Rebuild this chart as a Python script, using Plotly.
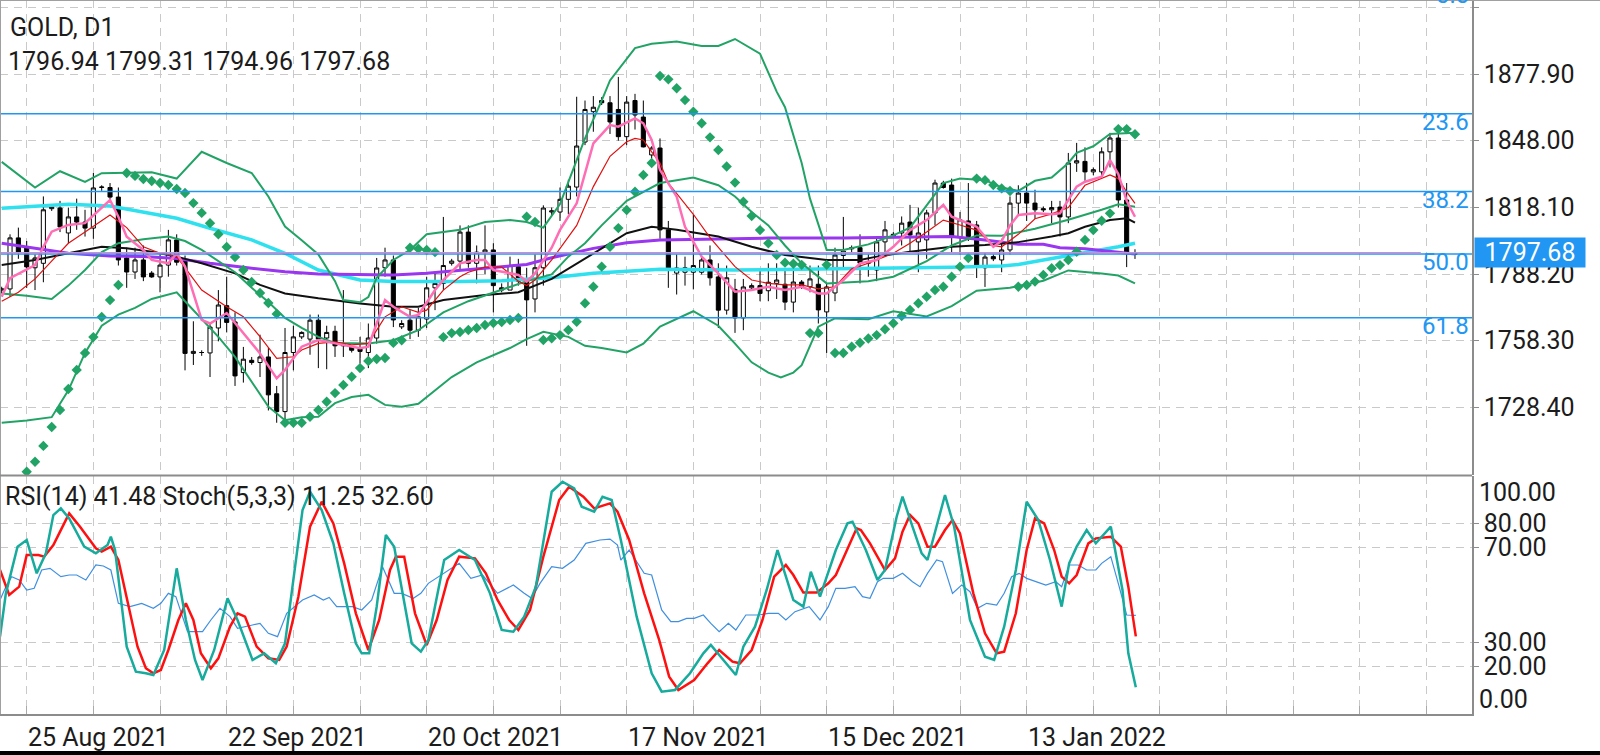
import plotly.graph_objects as go

# ---------------- price bars (bar 0 = Sun 22 Aug 2021 ... bar 136 = Fri 28 Jan 2022) -------------
opens = [1781.0, 1781.5, 1804.4, 1800.0, 1791.0, 1793.0, 1817.5, 1817.8, 1806.6, 1813.8,
         1811.5, 1808.8, 1827.0, 1827.0, 1822.7, 1795.4, 1789.1, 1794.5, 1788.6, 1786.9,
         1792.2, 1803.5, 1794.0, 1752.6, 1753.0, 1752.8, 1764.0, 1774.0, 1766.7, 1744.0,
         1749.5, 1748.5, 1751.0, 1734.5, 1726.5, 1753.0, 1760.0, 1759.0, 1767.5, 1759.5,
         1762.5, 1756.0, 1755.5, 1755.0, 1753.0, 1759.5, 1791.0, 1794.5, 1764.5, 1767.5,
         1763.0, 1768.0, 1782.0, 1784.0, 1793.0, 1794.0, 1807.0, 1793.0, 1798.0, 1799.0,
         1782.0, 1781.0, 1791.5, 1785.0, 1777.0, 1791.0, 1816.0, 1816.0, 1821.7, 1827.2,
         1847.4, 1861.0, 1866.0, 1865.0, 1862.0, 1849.8, 1866.0, 1858.6, 1841.6, 1844.7,
         1808.0, 1788.6, 1789.0, 1789.0, 1789.0, 1794.5, 1786.9, 1772.0, 1781.3, 1768.5,
         1782.0, 1783.0, 1780.7, 1784.0, 1783.6, 1775.6, 1784.6, 1782.5, 1783.6, 1771.2,
         1779.7, 1796.5, 1799.5, 1800.0, 1793.0, 1790.0, 1802.6, 1806.0, 1806.6, 1811.5,
         1802.6, 1803.5, 1815.6, 1829.0, 1828.1, 1805.0, 1812.0, 1810.2, 1791.0, 1796.0,
         1794.5, 1799.0, 1820.0, 1824.5, 1820.0, 1817.5, 1817.0, 1818.2, 1813.8, 1838.0,
         1838.7, 1834.0, 1834.0, 1843.0, 1849.2, 1821.4, 1796.94]
highs = [1782.5, 1806.0, 1809.0, 1803.0, 1797.0, 1823.0, 1819.0, 1821.0, 1818.0, 1822.0,
         1817.0, 1833.5, 1828.0, 1829.0, 1827.0, 1800.0, 1800.0, 1801.0, 1789.5, 1797.0,
         1808.0, 1806.0, 1796.5, 1767.0, 1754.0, 1766.0, 1781.0, 1787.0, 1771.0, 1755.5,
         1751.0, 1761.0, 1755.0, 1738.0, 1764.0, 1765.0, 1762.5, 1770.0, 1770.0, 1765.0,
         1765.0, 1781.0, 1756.0, 1760.0, 1766.0, 1795.4, 1800.0, 1796.5, 1767.5, 1772.0,
         1773.0, 1787.0, 1789.0, 1813.8, 1795.0, 1810.0, 1810.0, 1801.0, 1810.0, 1802.0,
         1784.0, 1796.0, 1795.0, 1791.0, 1797.0, 1819.0, 1818.0, 1827.0, 1830.5, 1867.7,
         1866.0, 1868.0, 1867.5, 1868.0, 1876.6, 1868.0, 1869.0, 1866.0, 1845.5, 1849.0,
         1812.0, 1797.0, 1796.0, 1814.8, 1796.0, 1801.0, 1793.0, 1792.0, 1786.0, 1786.0,
         1784.0, 1790.0, 1793.0, 1793.0, 1790.0, 1791.0, 1785.5, 1792.0, 1792.0, 1784.0,
         1800.0, 1813.8, 1801.0, 1806.0, 1797.0, 1805.0, 1812.0, 1807.0, 1814.0, 1819.2,
         1818.0, 1817.0, 1830.5, 1830.0, 1831.0, 1816.0, 1829.0, 1812.0, 1798.0, 1797.0,
         1804.0, 1823.0, 1828.0, 1829.0, 1826.0, 1818.5, 1821.0, 1821.0, 1842.5, 1847.0,
         1845.0, 1836.0, 1845.0, 1851.5, 1852.5, 1829.0, 1799.31]
lows = [1779.5, 1778.0, 1795.0, 1782.0, 1781.0, 1784.5, 1816.5, 1807.0, 1802.0, 1808.0,
        1805.0, 1804.0, 1825.5, 1821.0, 1792.0, 1782.0, 1786.0, 1785.0, 1786.5, 1780.0,
        1787.0, 1792.0, 1745.0, 1747.4, 1751.5, 1742.0, 1758.0, 1762.0, 1738.0, 1739.5,
        1747.5, 1742.0, 1727.0, 1721.5, 1722.5, 1745.0, 1759.0, 1752.0, 1746.0, 1745.5,
        1751.0, 1751.0, 1753.0, 1748.0, 1746.0, 1757.0, 1787.0, 1764.4, 1763.5, 1759.0,
        1760.0, 1764.0, 1772.0, 1781.0, 1792.0, 1790.0, 1791.0, 1784.0, 1788.0, 1771.0,
        1780.0, 1781.0, 1783.0, 1756.0, 1771.0, 1783.0, 1814.5, 1812.0, 1815.0, 1823.0,
        1846.0, 1852.0, 1864.0, 1851.0, 1848.0, 1846.0, 1853.0, 1845.0, 1840.0, 1804.0,
        1782.0, 1779.0, 1783.0, 1781.3, 1788.0, 1783.0, 1764.0, 1770.0, 1761.8, 1763.0,
        1781.0, 1776.0, 1776.0, 1777.0, 1772.0, 1771.0, 1781.5, 1780.0, 1766.0, 1752.8,
        1776.0, 1790.0, 1798.0, 1784.0, 1787.0, 1785.0, 1797.0, 1804.5, 1801.0, 1798.0,
        1789.0, 1795.0, 1810.0, 1826.5, 1798.0, 1797.0, 1803.0, 1786.4, 1782.4, 1794.0,
        1789.0, 1797.0, 1815.0, 1812.0, 1813.0, 1816.0, 1811.0, 1805.0, 1811.0, 1834.0,
        1830.0, 1832.5, 1831.8, 1836.0, 1818.0, 1791.3, 1794.96]
closes = [1781.5, 1804.4, 1798.0, 1791.4, 1795.4, 1817.0, 1818.3, 1809.3, 1813.8, 1811.5,
          1808.8, 1826.8, 1827.2, 1822.7, 1794.5, 1789.1, 1794.5, 1786.9, 1786.9, 1792.2,
          1803.5, 1793.5, 1752.6, 1753.5, 1753.0, 1764.4, 1774.3, 1766.5, 1742.5, 1750.0,
          1748.5, 1751.0, 1734.0, 1726.5, 1753.0, 1760.0, 1762.0, 1767.5, 1759.0, 1762.0,
          1756.0, 1757.0, 1754.0, 1753.5, 1759.5, 1790.9, 1794.5, 1767.6, 1766.0, 1763.0,
          1769.0, 1782.0, 1784.0, 1792.0, 1794.0, 1807.0, 1793.0, 1798.0, 1799.0, 1783.0,
          1781.0, 1792.0, 1785.0, 1776.6, 1791.0, 1817.8, 1816.5, 1821.7, 1827.6, 1845.6,
          1862.0, 1863.0, 1865.0, 1856.4, 1849.8, 1865.3, 1859.5, 1845.2, 1844.7, 1808.0,
          1790.0, 1790.9, 1791.0, 1792.0, 1794.5, 1786.5, 1772.0, 1786.5, 1768.5, 1782.4,
          1783.0, 1779.5, 1784.5, 1785.5, 1775.6, 1784.6, 1782.5, 1786.0, 1772.1, 1782.4,
          1796.7, 1798.5, 1800.0, 1793.1, 1793.5, 1802.6, 1808.0, 1805.5, 1811.0, 1805.7,
          1806.6, 1815.6, 1829.0, 1827.0, 1804.8, 1812.5, 1805.0, 1791.8, 1795.8, 1795.0,
          1799.0, 1820.0, 1824.5, 1820.0, 1817.0, 1817.0, 1818.0, 1813.8, 1838.0, 1839.0,
          1834.0, 1835.0, 1843.0, 1849.2, 1821.4, 1797.7, 1797.68]

# date labels and the bar they sit on
date_labels = ["25 Aug 2021", "22 Sep 2021", "20 Oct 2021", "17 Nov 2021", "15 Dec 2021", "13 Jan 2022"]
date_bars = [3, 27, 51, 75, 99, 123]

price_ticks = [1728.40, 1758.30, 1788.20, 1818.10, 1848.00, 1877.90]
price_grid_extra = [1907.80]
osc_ticks = [80.0, 70.0, 30.0, 20.0]

fib_names = ["0.0", "23.6", "38.2", "50.0", "61.8"]
fib_prices = [1916.6, 1860.1, 1825.2, 1797.2, 1768.6]
last_price = 1797.68

# ---------------- indicators (bar index, value) ----------------
bb_up_i = [0, 4, 7, 10, 12, 18, 21, 24, 27, 30, 32, 34, 36, 38, 40, 41, 43, 44, 45, 47, 49, 51, 55,
           58, 61, 63, 65, 67, 69, 70, 72, 73, 76, 78, 81, 84, 86, 88, 91, 93, 94, 95, 96, 97, 98,
           99, 101, 104, 107, 109, 111, 113, 115, 118, 120, 122, 124, 126, 128, 129, 131, 133, 136]
bb_up_v = [1838.5, 1827, 1834.3, 1829.5, 1833.4, 1833.8, 1831, 1843, 1838, 1833.5, 1823, 1809.5,
           1803.3, 1797, 1785, 1776.5, 1775.5, 1777.9, 1786.5, 1794.5, 1799, 1806, 1808, 1811.5,
           1812.4, 1811.5, 1809, 1819.6, 1839.3, 1849, 1866, 1875, 1889.5, 1891.5, 1892.5, 1890.5,
           1890.5, 1893.6, 1887, 1870, 1863, 1850, 1838, 1822, 1810.6, 1799, 1799, 1801.5, 1805.5,
           1809, 1819, 1829, 1831, 1830.3, 1827, 1825.5, 1830, 1831.5, 1838, 1842.5, 1845.5, 1851,
           1851.5]
bb_mid_i = [0, 3, 6, 8, 10, 12, 14, 17, 20, 22, 24, 26, 28, 30, 32, 34, 36, 38, 40, 44, 47, 50, 53,
            56, 60, 63, 66, 68, 70, 72, 75, 79, 83, 86, 88, 90, 92, 94, 96, 99, 104, 107, 111, 114,
            117, 120, 124, 128, 132, 134, 136]
bb_mid_v = [1779.5, 1778.5, 1777, 1783, 1790, 1798, 1802, 1803.8, 1805, 1803, 1799, 1794, 1789,
            1782, 1775.6, 1768.5, 1764, 1760, 1757.3, 1757, 1758.5, 1763, 1771, 1776, 1781, 1785,
            1788, 1796, 1802, 1810, 1821, 1829, 1831.5, 1828, 1823, 1816, 1810, 1801, 1793, 1784,
            1785, 1787, 1794, 1801, 1805.5, 1805.4, 1808.5, 1812.5, 1817, 1819.5, 1818.4]
bb_lo_i = [0, 3, 6, 8, 10, 12, 14, 16, 18, 20, 21, 22, 24, 26, 28, 30, 32, 34, 36, 38, 40, 42, 44,
           46, 48, 50, 52, 54, 57, 61, 63, 65, 68, 70, 72, 75, 77, 79, 83, 86, 88, 90, 92, 93.5, 95,
           96, 98, 100, 104, 107, 111, 114, 117, 121, 125, 128, 132, 134, 136]
bb_lo_v = [1721.5, 1722.5, 1724, 1736, 1752.8, 1765, 1770, 1773, 1777, 1779, 1780, 1776, 1768, 1760,
           1751, 1740, 1728.7, 1722.6, 1724, 1724.2, 1730.3, 1733, 1734, 1729.5, 1728.7, 1730, 1736,
           1742, 1748.6, 1755, 1759, 1762.3, 1760, 1756, 1755, 1753, 1757, 1764.6, 1771.5, 1765,
           1757, 1748.6, 1744, 1741.8, 1744, 1747.3, 1764.6, 1768.3, 1767.9, 1771.5, 1769.2, 1773.8,
           1780.7, 1782, 1785.2, 1789.8, 1788.4, 1787.5, 1784]

sar_i = list(range(3, 137))
sar_v = [1699.5, 1704, 1711.1, 1719.6, 1727.2, 1736.6, 1745.2, 1752.8, 1759.9, 1768.9, 1776.5,
         1783.3, 1833.5, 1832.2, 1830.8, 1829.9, 1829, 1828.1, 1826.3, 1824.5, 1820, 1815.6, 1811,
         1806, 1800.3, 1795.8, 1790, 1784.6, 1779.7, 1775.2, 1770.3, 1721.5, 1721.5, 1721.5,
         1724.2, 1727.2, 1730.9, 1734.8, 1738.4, 1742.1, 1746, 1749.2, 1750.1, 1750.5, 1757.3,
         1758.5, 1800, 1799.5, 1799, 1798, 1759.9, 1761.7, 1762.2, 1763.1, 1764, 1765.3, 1766.2,
         1766.7, 1767.6, 1768.5, 1813.9, 1811.5, 1758.6, 1759.4, 1760.8, 1763.1, 1766.8, 1775.1,
         1782.5, 1791.5, 1800.4, 1808.8, 1816.9, 1825.1, 1832.6, 1838, 1877, 1875.5, 1871.5,
         1866.2, 1861, 1855.8, 1849.5, 1843.8, 1836.4, 1829.2, 1820.6, 1814.2, 1807.9, 1802,
         1796.7, 1793.3, 1792.8, 1792.3, 1761.7, 1761.7, 1792.3, 1752.8, 1752.8, 1755.6, 1757.4,
         1759.3, 1760.8, 1763.4, 1766.1, 1769.4, 1772.1, 1775.1, 1778, 1781, 1782.5, 1787, 1791.5,
         1795.4, 1831, 1830.3, 1828.1, 1826.6, 1825.4, 1782.5, 1783.3, 1784.8, 1787.8, 1790.8,
         1792.2, 1794.5, 1798.2, 1803.5, 1807.9, 1812.1, 1815.4, 1853.2, 1853.2, 1850.9]

pink_i = [0, 1, 4, 5, 6, 8, 10, 12, 13, 14, 15, 17, 18, 20, 21, 22, 24, 25, 27, 28, 30, 31, 33, 34,
          36, 38, 40, 43, 44, 45, 46, 47, 49, 50, 52, 53, 55, 57, 58, 59, 61, 62, 63, 64, 66, 67,
          69, 71, 73, 74, 76, 77, 78, 79, 81, 82, 84, 86, 88, 90, 92, 94, 96, 98, 99, 101, 103,
          105, 107, 109, 111, 113, 114, 116, 117, 118, 119, 120, 121, 122, 124, 126, 127, 128, 129,
          130, 132, 133, 134, 135, 136]
pink_v = [1778, 1786.3, 1792.2, 1800.4, 1807.2, 1810.2, 1811, 1817.7, 1821.4, 1813.9, 1804.9, 1799,
          1794.5, 1793, 1797.5, 1791.5, 1767.6, 1766, 1770.7, 1766.2, 1757.1, 1752.6, 1741.4,
          1745.2, 1755.6, 1758.6, 1757.1, 1754.9, 1755.6, 1766.1, 1776.5, 1773.5, 1769, 1769.8,
          1781, 1785.5, 1793, 1794.5, 1794.5, 1790, 1788.5, 1787.8, 1784.8, 1788.5, 1800, 1808,
          1819.9, 1846.8, 1855, 1854.3, 1858, 1855.8, 1848.3, 1834.8, 1822.9, 1809.4, 1796,
          1788.5, 1780.3, 1781, 1782.5, 1781, 1782.5, 1779.5, 1779.5, 1785.5, 1793, 1794.5,
          1800.4, 1807.9, 1812.4, 1819.2, 1813.9, 1811, 1809.4, 1805, 1800.4, 1803, 1810, 1814.7,
          1815.4, 1815, 1815.4, 1821.4, 1827.4, 1829.6, 1831.8, 1839.3, 1833, 1821, 1813.9]

red_i = [0, 2, 4, 6, 8, 10, 12, 13, 15, 17, 19, 21, 24, 26, 27, 29, 31, 33, 35, 36, 38, 40, 42, 44,
         46, 48, 50, 51, 53, 55, 56, 58, 60, 62, 63, 64, 66, 69, 71, 73, 75, 76, 77, 78, 79, 80,
         83, 85, 88, 90, 92, 94, 96, 98, 100, 102, 104, 107, 109, 111, 113, 115, 117, 119, 120,
         122, 124, 126, 128, 130, 133, 134, 135, 136]
red_v = [1776, 1780, 1786, 1794, 1802, 1807, 1812, 1814.7, 1809, 1800.4, 1797.5, 1796, 1781, 1775.8,
         1773.5, 1769, 1760.1, 1750.4, 1751.1, 1754.1, 1757.1, 1757.8, 1756.4, 1757.1, 1769,
         1773.5, 1771, 1772, 1781, 1787, 1789, 1791.3, 1791.3, 1785, 1783, 1785.5, 1794.5, 1810,
         1827.4, 1841, 1847.5, 1849, 1848.3, 1843, 1838, 1829, 1815, 1804.5, 1791.5, 1785.5, 1784,
         1783.3, 1783.3, 1781.5, 1782.5, 1790.5, 1793, 1797.5, 1802, 1807, 1812.4, 1810.2, 1807.9,
         1801, 1800.4, 1806, 1813, 1815.2, 1818, 1828, 1832.6, 1831, 1825, 1819.9]

black_i = [0, 4, 8, 12, 15, 18, 21, 24, 28, 31, 34, 38, 43, 47, 50, 53, 58, 62, 66, 71, 75, 78, 81,
           86, 90, 94, 99, 103, 105, 109, 114, 118, 122, 126, 128, 130, 133, 135, 136]
black_v = [1792.2, 1794.5, 1797.5, 1800.4, 1799.7, 1798.2, 1796, 1793, 1788.5, 1783.3, 1779.5,
           1777.3, 1775, 1773.5, 1773.5, 1776.5, 1778.8, 1780, 1786, 1797.5, 1806.5, 1809.4, 1808,
           1805, 1800.4, 1796.7, 1794.5, 1794.5, 1796, 1798.2, 1800.4, 1801.2, 1802.5, 1805,
           1806.5, 1809.4, 1812.4, 1813.2, 1811.2]

purple_i = [0, 4, 8, 13, 17, 21, 25, 30, 34, 38, 43, 47, 51, 55, 60, 63, 66, 71, 75, 79, 84, 92,
            101, 109, 114, 118, 122, 125, 127, 130, 134, 136]
purple_v = [1802, 1799.7, 1797.5, 1796.3, 1796, 1795.2, 1793, 1790.8, 1789.2, 1788.2, 1787.8,
            1787.8, 1788.5, 1789.7, 1791.5, 1792.5, 1795.5, 1799.7, 1802.2, 1803.5, 1803.8, 1804.3,
            1804.3, 1804.7, 1805, 1803.5, 1801.5, 1801.5, 1800, 1799.5, 1798, 1797.2]

cyan_i = [0, 4, 8, 13, 17, 21, 25, 30, 34, 38, 43, 47, 51, 55, 60, 66, 71, 79, 88, 96, 105, 114,
          120, 122, 125, 129, 134, 136]
cyan_v = [1817.7, 1818.7, 1819.5, 1818.7, 1816.1, 1813.2, 1808.7, 1803.5, 1797.5, 1790, 1785.5,
          1784.8, 1784.8, 1784.8, 1785.2, 1786.5, 1788.5, 1790.3, 1790, 1790.3, 1790.8, 1791.2,
          1791.8, 1792.5, 1794.5, 1797, 1800.4, 1802]

# oscillators (bar position as read, value)
stk_i = [-0.2, 0.5, 1.9, 3.0, 4.2, 5.3, 6.2, 7.1, 8.1, 9.9, 11.3, 12.7, 13.1, 13.6, 15.0, 16.1, 17.3,
         18.2, 19.5, 21.0, 22.1, 23.2, 24.1, 25.5, 27.1, 28.3, 30.1, 31.5, 32.9, 34.0, 36.1, 37.0,
         38.4, 39.8, 41.1, 42.5, 43.2, 44.1, 45.0, 46.1, 47.1, 48.0, 49.2, 50.3, 51.2, 53.1, 54.9,
         56.8, 58.6, 60.0, 61.4, 62.7, 64.1, 66.0, 67.3, 68.7, 69.6, 71.1, 72.1, 73.2, 74.3, 76.2,
         78.0, 79.2, 80.8, 82.6, 84.2, 85.1, 86.3, 88.1, 89.0, 90.4, 91.8, 93.1, 95.0, 96.2, 97.1,
         98.2, 100.1, 101.5, 102.1, 103.7, 105.1, 106.0, 107.4, 108.1, 109.3, 110.4, 111.1, 112.5,
         113.2, 114.3, 116.2, 118.0, 119.1, 120.3, 121.7, 123.0, 124.4, 125.8, 127.2, 128.1, 129.0,
         130.2, 131.3, 133.1, 134.5, 135.2, 136.1]
stk_v = [32.5, 50.7, 70.3, 73.1, 59.1, 67.5, 83.6, 86.4, 82.2, 70.3, 67.5, 71, 74.5, 68.9, 28.3,
         17.8, 17.1, 16.4, 26.9, 61.2, 39.5, 22.7, 14.3, 26.9, 48.6, 39.5, 22.7, 25.5, 21.3, 29.7,
         85.7, 93.4, 85.7, 71.7, 50.7, 29.7, 25.5, 25.5, 45.1, 75.2, 70.3, 53.5, 29.7, 26.2, 31.1,
         64.7, 68.9, 64.7, 50.7, 35.3, 34.6, 40.9, 53.5, 93.4, 97.6, 94.8, 87.1, 85, 91.3, 89.9,
         73.1, 40.9, 17.1, 9.4, 10.1, 17.1, 25.5, 29, 24.1, 16.4, 28.3, 36.7, 52.1, 68.9, 47.9,
         45.1, 59.8, 49.3, 68.9, 80.1, 80.8, 68.9, 56.3, 60.5, 82.9, 91.3, 78.7, 67.5, 64.7, 82.9,
         92, 78.7, 39.5, 24.1, 22.7, 36.7, 60.5, 89.2, 81.5, 64.7, 45.1, 63.3, 70.3, 77.3, 71.7,
         78.7, 52.1, 25.5, 11.25]

std_i = [-0.2, 0.9, 2.1, 3.0, 4.4, 5.1, 6.2, 8.1, 9.4, 11.3, 12.0, 13.1, 14.0, 15.4, 16.3, 17.3,
         18.2, 19.1, 20.0, 21.2, 22.1, 23.0, 23.9, 25.1, 26.0, 27.4, 28.3, 29.2, 30.6, 32.0, 33.3,
         34.2, 35.6, 37.0, 38.4, 39.8, 41.1, 42.5, 44.0, 45.3, 46.6, 47.3, 48.3, 49.6, 51.0, 52.2,
         53.5, 54.9, 56.8, 58.1, 59.5, 60.9, 62.0, 63.4, 65.0, 66.9, 68.1, 69.8, 71.1, 73.0, 73.9,
         75.3, 77.1, 78.9, 80.1, 81.2, 83.1, 84.7, 86.1, 87.7, 88.6, 90.0, 91.3, 92.7, 94.1, 95.0,
         96.2, 97.8, 99.2, 100.1, 101.2, 102.6, 103.1, 104.2, 106.0, 107.2, 108.1, 109.0, 110.0,
         111.1, 112.0, 113.2, 114.1, 115.0, 116.6, 118.0, 119.4, 120.3, 121.7, 123.0, 124.0, 125.1,
         126.3, 127.2, 128.1, 129.0, 130.4, 131.3, 133.1, 134.3, 135.2, 136.1]
std_v = [60.5, 50, 53.5, 66.8, 66.8, 66.1, 71, 84.3, 78.7, 69.6, 68.2, 70.3, 64.7, 42.3, 28.3, 19.2,
         17.1, 18.5, 26.9, 39.5, 46.5, 39.5, 25.5, 19.2, 23.4, 36.7, 42.3, 40.9, 28.3, 23.4, 22.7,
         28.3, 49.3, 78.7, 89.2, 80.1, 63.3, 42.3, 26.9, 39.5, 60.5, 66.1, 66.1, 42.3, 29, 39.5,
         56.3, 66.1, 65.4, 59.1, 47.9, 39.5, 35.3, 43.7, 66.1, 89.9, 95.5, 91.3, 86.4, 88.5, 85,
         73.1, 50.7, 31.1, 15.7, 10.1, 14.3, 21.3, 26.9, 22, 21.3, 26.9, 39.5, 57.7, 62.6, 58.4,
         51, 51, 54.9, 58.4, 66.8, 78, 77.3, 71.7, 60.5, 65.4, 76.6, 83.6, 80.1, 70.3, 70.3, 77.3,
         81.5, 75.9, 50.7, 33.9, 25.5, 26.2, 42.3, 68.9, 82.2, 80.1, 68.9, 57.7, 54.9, 58.4, 71.7,
         73.8, 74.5, 70.3, 53.5, 32.6]

rsi_i = [-0.2, 0.5, 1.2, 2.1, 3.0, 3.9, 4.8, 5.8, 7.1, 8.1, 9.0, 10.1, 11.3, 12.2, 13.1, 14.0, 15.4,
         16.8, 18.2, 19.1, 20.0, 20.9, 22.3, 24.1, 25.1, 26.2, 27.4, 28.3, 30.1, 31.0, 32.0, 33.1,
         34.2, 36.1, 37.5, 38.6, 39.3, 40.2, 42.1, 43.2, 44.4, 45.7, 47.1, 48.0, 49.4, 50.3, 51.2,
         53.1, 54.9, 56.3, 57.7, 59.5, 61.4, 62.7, 63.6, 64.6, 66.0, 67.3, 68.7, 70.1, 71.8, 73.0,
         73.9, 74.3, 75.3, 77.1, 78.0, 79.2, 80.3, 81.2, 82.2, 83.1, 84.2, 85.1, 86.1, 87.2, 88.1,
         89.3, 90.9, 92.0, 93.2, 94.1, 95.2, 96.9, 98.2, 99.2, 100.1, 101.2, 102.4, 103.3, 104.2,
         105.1, 105.8, 107.0, 108.1, 109.3, 110.2, 111.1, 112.2, 112.9, 114.1, 115.2, 116.2, 117.1,
         118.2, 119.4, 120.3, 121.2, 122.1, 123.0, 124.2, 125.3, 126.5, 127.2, 128.1, 129.2, 130.2,
         131.3, 132.0, 133.1, 134.1, 135.0, 136.1]
rsi_v = [47.9, 53.5, 57.7, 56.3, 52.1, 52.8, 60.5, 61.2, 57.7, 58.4, 58.4, 56.3, 62.6, 62.2, 60.5,
         46.5, 45.1, 46.5, 44.4, 46.5, 50.7, 49.3, 34.6, 34.6, 39.5, 44.4, 40.9, 36, 37.4, 38.1,
         33.9, 32.5, 42.3, 47.9, 50, 47.9, 49, 45.1, 45.1, 43.7, 47.9, 61.9, 50.7, 50.7, 48.6, 50.7,
         54.9, 59.1, 63.3, 57, 58.4, 50.7, 54.2, 50.7, 48.6, 54.9, 61.9, 61.2, 64.7, 71.7, 73.1,
         73.5, 71, 64.7, 68.9, 59.1, 58.4, 43.7, 38.8, 38.8, 40.2, 40.2, 41.6, 38.1, 34.6, 38.1,
         35.3, 41.6, 41.6, 42.3, 42.3, 39.5, 43, 45.1, 39.5, 45.1, 52.8, 52.8, 53.5, 49.3, 48.6,
         55.6, 57, 57, 59.1, 55.6, 53.5, 59.1, 64.7, 64, 50.7, 54.2, 51.4, 44.4, 46.5, 45.8, 50.7,
         57.7, 59.1, 57, 55.6, 54.2, 55.6, 53.5, 62.6, 62.6, 60.5, 60.5, 63.3, 66.1, 53.5, 41.6,
         41.48]

# ---------------- styling ----------------
FONT = "Roboto"
TXT = "#1c1c1c"
GRID = "#c9c9c9"
AXIS = "#8c8c8c"
BLUE = "#2196F3"
GREEN = "#22a366"
W, H = 1600, 755
ML, MR, MT, MB = 0, 128, 0, 41
PW, PH = W - ML - MR, H - MT - MB
SPLIT_MAIN = (PH - 475) / PH
SPLIT_OSC = (PH - 476) / PH

def py(px):
    return (PH - px) / PH

bars = list(range(len(closes)))
grid_bars = list(range(date_bars[0], 177, 8))
grid_text = []
for b in grid_bars:
    grid_text.append(date_labels[date_bars.index(b)] if b in date_bars else "")

fig = go.Figure()

fig.add_trace(go.Candlestick(
    x=bars, open=opens, high=highs, low=lows, close=closes,
    increasing=dict(line=dict(color="black", width=1), fillcolor="white"),
    decreasing=dict(line=dict(color="black", width=1), fillcolor="black"),
    whiskerwidth=0, hoverinfo="skip", showlegend=False, xaxis="x", yaxis="y"))

def line(xs, ys, color, width, axis=("x", "y")):
    fig.add_trace(go.Scatter(x=xs, y=ys, mode="lines", line=dict(color=color, width=width),
                             hoverinfo="skip", showlegend=False, xaxis=axis[0], yaxis=axis[1]))

line(cyan_i, cyan_v, "#2fe0ee", 3.5)
line(purple_i, purple_v, "#9a35f0", 3)
line(black_i, black_v, "#111111", 2)
line(bb_up_i, bb_up_v, GREEN, 2)
line(bb_mid_i, bb_mid_v, GREEN, 2)
line(bb_lo_i, bb_lo_v, GREEN, 2)
line(red_i, red_v, "#e01010", 1.2)
line(pink_i, pink_v, "#ff6eb4", 2.5)

fig.add_trace(go.Scatter(x=sar_i, y=sar_v, mode="markers",
                         marker=dict(symbol="diamond", size=8, color=GREEN, line=dict(width=0)),
                         hoverinfo="skip", showlegend=False, xaxis="x", yaxis="y"))

# oscillator panel
line(rsi_i, rsi_v, "#3f8fe0", 1.2, ("x2", "y2"))
line(std_i, std_v, "#ff1010", 2.5, ("x2", "y2"))
line(stk_i, stk_v, "#17ab9e", 2.5, ("x2", "y2"))

shapes = []
# fibonacci levels
for p in fib_prices:
    shapes.append(dict(type="line", xref="paper", yref="y", x0=0, x1=1, y0=p, y1=p,
                       line=dict(color=BLUE, width=1.5), layer="above"))
# current price line
shapes.append(dict(type="line", xref="x", yref="y", x0=-0.2, x1=170.3, y0=last_price, y1=last_price,
                   line=dict(color="#c78fd6", width=1.5), layer="above"))
# frame
shapes.append(dict(type="line", xref="paper", yref="paper", x0=0, x1=W / PW, y0=1, y1=1,
                   line=dict(color="#a0a0a0", width=2)))
shapes.append(dict(type="line", xref="paper", yref="paper", x0=0, x1=0, y0=0, y1=1,
                   line=dict(color="#a0a0a0", width=2)))
shapes.append(dict(type="line", xref="paper", yref="paper", x0=0, x1=1,
                   y0=py(475.5), y1=py(475.5), line=dict(color=AXIS, width=2)))
shapes.append(dict(type="rect", xref="paper", yref="paper", x0=0, x1=W / PW,
                   y0=py(756), y1=py(751), fillcolor="black", line=dict(width=0)))

ann = []
ann.append(dict(text="GOLD, D1", xref="paper", yref="paper", x=8 / PW, y=py(28),
                xanchor="left", yanchor="middle", showarrow=False, font=dict(size=25, color=TXT)))
ann.append(dict(text="%.2f %.2f %.2f %.2f" % (opens[-1], highs[-1], lows[-1], closes[-1]),
                xref="paper", yref="paper", x=6 / PW, y=py(61), xanchor="left", yanchor="middle",
                showarrow=False, font=dict(size=25, color=TXT)))
ann.append(dict(text="RSI(14) %.2f Stoch(5,3,3) %.2f %.2f" % (rsi_v[-1], stk_v[-1], std_v[-1]),
                xref="paper", yref="paper", x=3 / PW, y=py(496), xanchor="left", yanchor="middle",
                showarrow=False, font=dict(size=25, color=TXT)))
# fib level labels; the 0.0 level lies just above the visible price range
for name, p in zip(fib_names, fib_prices):
    if p > 1911.0:
        ann.append(dict(text=name, xref="paper", yref="paper", x=1, y=py(-5), xanchor="right",
                        yanchor="middle", xshift=-1, showarrow=False,
                        font=dict(size=24, color=BLUE)))
    else:
        ann.append(dict(text=name, xref="paper", yref="y", x=1, y=p, xanchor="right",
                        yanchor="middle", xshift=-1, yshift=-8, showarrow=False,
                        font=dict(size=24, color=BLUE)))
ann.append(dict(text="%.2f" % last_price, xref="paper", yref="y", x=1, y=last_price, xanchor="left",
                yanchor="middle", xshift=2, showarrow=False, bgcolor=BLUE, width=106, height=25,
                borderpad=2, font=dict(size=25, color="white")))
ann.append(dict(text="100.00", xref="paper", yref="paper", x=1, y=py(492), xanchor="left",
                yanchor="middle", xshift=5, showarrow=False, font=dict(size=25, color=TXT)))
ann.append(dict(text="0.00", xref="paper", yref="paper", x=1, y=py(699), xanchor="left",
                yanchor="middle", xshift=5, showarrow=False, font=dict(size=25, color=TXT)))

xr = [-1.7 / 8.333, (PW - 1.7) / 8.333]

fig.update_layout(
    width=W, height=H, margin=dict(l=ML, r=MR, t=MT, b=MB),
    paper_bgcolor="white", plot_bgcolor="white", hovermode=False,
    font=dict(family=FONT, size=25, color=TXT),
    shapes=shapes, annotations=ann, showlegend=False,
    xaxis=dict(domain=[0, 1], range=xr, anchor="y", tickvals=grid_bars, showticklabels=False,
               showgrid=True, gridcolor=GRID, griddash="8px,6px", gridwidth=1, zeroline=False,
               showline=False, ticks="", rangeslider=dict(visible=False), fixedrange=True),
    xaxis2=dict(domain=[0, 1], range=xr, anchor="y2", matches="x", tickvals=grid_bars,
                ticktext=grid_text, ticks="inside", ticklen=8, tickcolor="#aaaaaa",
                ticklabelposition="outside right", tickfont=dict(size=25, color=TXT),
                showgrid=True, gridcolor=GRID, griddash="8px,6px", zeroline=False,
                showline=True, linecolor=AXIS, linewidth=1.5),
    yaxis=dict(domain=[SPLIT_MAIN, 1], range=[1698.06, 1911.09], side="right", anchor="x",
               tickvals=price_ticks + price_grid_extra,
               ticktext=["%.2f" % v for v in price_ticks] + [""],
               ticks="outside", ticklen=5, tickcolor=AXIS, tickfont=dict(size=25, color=TXT),
               showgrid=True, gridcolor=GRID, griddash="8px,6px", zeroline=False,
               showline=True, linecolor=AXIS, linewidth=1.5),
    yaxis2=dict(domain=[0, SPLIT_OSC], range=[0, 100], side="right", anchor="x2",
                tickvals=osc_ticks, ticktext=["%.2f" % v for v in osc_ticks],
                ticks="outside", ticklen=5, tickcolor=AXIS, tickfont=dict(size=25, color=TXT),
                showgrid=True, gridcolor=GRID, griddash="8px,6px", zeroline=False,
                showline=True, linecolor=AXIS, linewidth=1.5),
)

fig.write_html("out.html", config={"displayModeBar": False},
               post_script="document.body.style.margin='0px';document.body.style.overflow='hidden';")
